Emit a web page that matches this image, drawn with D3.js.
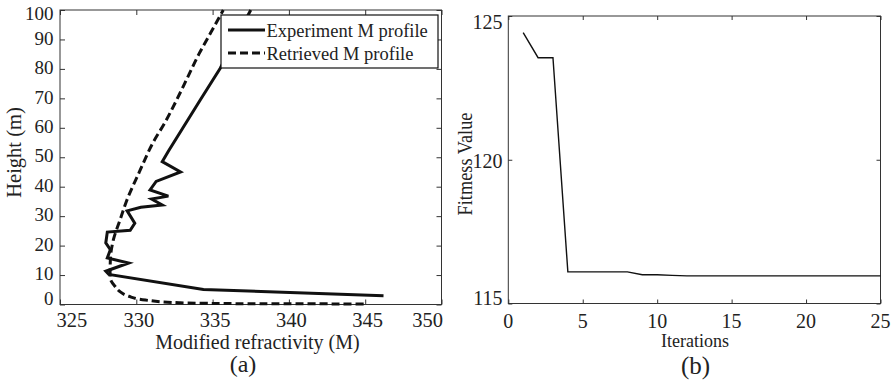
<!DOCTYPE html>
<html lang="en">
<head>
<meta charset="UTF-8">
<title>M profile retrieval</title>
<style>
  body { margin: 0; background: #fff; }
  text { font-family: "Liberation Serif", "Times New Roman", serif; fill: #222; }
  .tick line { stroke: #333; }
</style>
</head>
<body>
<svg id="chart" width="895" height="383"></svg>
<script src="https://d3js.org/d3.v7.min.js"></script>
<script>
// panel (a): measured profile, bottom to top
const expM = [346.2, 334.4, 328.2, 328.0, 329.5, 328.1, 328.3, 328.0, 328.1, 329.6, 329.9, 329.4,
              330.3, 331.7, 331.0, 332.1, 330.9, 331.3, 332.9, 331.7, 332.1, 334.2, 335.5, 337.5];
const expH = [3.0, 5.1, 10.2, 11.3, 14.1, 15.8, 18.6, 20.9, 24.6, 25.2, 27.6, 31.8,
              33.0, 33.8, 35.8, 36.8, 38.9, 41.8, 45.0, 48.5, 52.0, 69.5, 80.2, 100];
// panel (a): retrieved profile, bottom to top
const retM = [344.9, 338.0, 334.5, 332.8, 330.6, 329.5, 328.9, 328.6, 328.35, 328.28, 328.3, 328.5,
              328.94, 329.35, 330.2, 331.1, 331.9, 332.6, 333.35, 334.1, 334.9, 335.7];
const retH = [0.2, 0.25, 0.4, 0.6, 1.5, 2.8, 4.5, 6.2, 8.0, 9.6, 15.3, 22.0,
              28.8, 35.0, 45.0, 55.0, 62.0, 69.0, 77.0, 85.0, 92.5, 100];
const legendNames = ["Experiment M profile", "Retrieved M profile"];
const xTicksA = [325, 330, 335, 340, 345, 350];
const yTicksA = [0, 10, 20, 30, 40, 50, 60, 70, 80, 90, 100];

// panel (b): fitness per iteration
const iterations = d3.range(1, 26);
const fitness = [124.42, 123.55, 123.55, 116.1, 116.1, 116.1, 116.1, 116.1, 116.0, 116.0, 115.98, 115.96,
                 115.96, 115.96, 115.96, 115.96, 115.96, 115.96, 115.96, 115.96, 115.96, 115.96, 115.96, 115.96, 115.96];
const xTicksB = [0, 5, 10, 15, 20, 25];
const yTicksB = [115, 120, 125];

const svg = d3.select("#chart");

// inward ticks on all four sides plus the box
function frame(g, x, y, xt, yt, len) {
    const [x0, x1] = x.range();
    const [y0, y1] = y.range();
    g.append("g").attr("transform", `translate(0,${y0})`)
        .call(d3.axisBottom(x).tickValues(xt).tickSize(-len).tickSizeOuter(0).tickFormat(""));
    g.append("g").attr("transform", `translate(0,${y1})`)
        .call(d3.axisTop(x).tickValues(xt).tickSize(-len).tickSizeOuter(0).tickFormat(""));
    g.append("g").attr("transform", `translate(${x0},0)`)
        .call(d3.axisLeft(y).tickValues(yt).tickSize(-len).tickSizeOuter(0).tickFormat(""));
    g.append("g").attr("transform", `translate(${x1},0)`)
        .call(d3.axisRight(y).tickValues(yt).tickSize(-len).tickSizeOuter(0).tickFormat(""));
    g.selectAll(".domain").remove();
    g.append("rect")
        .attr("x", x0).attr("y", y1)
        .attr("width", x1 - x0).attr("height", y0 - y1)
        .attr("fill", "none").attr("stroke", "#333").attr("stroke-width", 1);
}

// ---------- (a) ----------
const xA = d3.scaleLinear().domain([325, 350]).range([60, 441.5]);
const yA = d3.scaleLinear().domain([0, 100]).range([304.5, 10]);
const gA = svg.append("g");

frame(gA, xA, yA, xTicksA, yTicksA, 5);

gA.append("path")
    .attr("fill", "none")
    .attr("stroke", "#111")
    .attr("stroke-width", 3)
    .attr("stroke-dasharray", "8,4")
    .attr("d", d3.line().curve(d3.curveMonotoneY).x(d => xA(d[0])).y(d => yA(d[1]))(d3.zip(retM, retH)));

gA.append("path")
    .attr("fill", "none")
    .attr("stroke", "#111")
    .attr("stroke-width", 3)
    .attr("d", d3.line().x(d => xA(d[0])).y(d => yA(d[1]))(d3.zip(expM, expH)));

// x tick labels: the end ones sit inside the box
gA.selectAll(".xl").data(xTicksA).enter().append("text")
    .attr("x", (d, i) => i === 0 ? xA(d) - 3.5 : i === xTicksA.length - 1 ? xA(d) + 1.5 : xA(d) + 2.5)
    .attr("y", 327)
    .attr("text-anchor", (d, i) => i === 0 ? "start" : i === xTicksA.length - 1 ? "end" : "middle")
    .style("font-size", "20.5px")
    .text(d => d);

gA.selectAll(".yl").data(yTicksA).enter().append("text")
    .attr("x", 53.5)
    .attr("y", (d, i) => yA(d) + (i === 0 ? -6 : i === yTicksA.length - 1 ? 3 : -1.5))
    .attr("dy", "0.35em")
    .attr("text-anchor", "end")
    .style("font-size", "19px")
    .text(d => d);

gA.append("text")
    .attr("x", 257.5).attr("y", 348.5)
    .attr("text-anchor", "middle")
    .style("font-size", "20px")
    .text("Modified refractivity (M)");

gA.append("text")
    .attr("transform", "translate(21,152.5) rotate(-90)")
    .attr("text-anchor", "middle")
    .style("font-size", "20.5px")
    .text("Height (m)");

gA.append("text")
    .attr("x", 243).attr("y", 371.5)
    .attr("text-anchor", "middle")
    .style("font-size", "24px")
    .text("(a)");

// legend
const leg = gA.append("g");
leg.append("rect")
    .attr("x", 221).attr("y", 15)
    .attr("width", 217).attr("height", 53)
    .attr("fill", "#fff").attr("stroke", "#111").attr("stroke-width", 1.2);
legendNames.forEach((name, i) => {
    const ly = 30 + i * 23;
    leg.append("line")
        .attr("x1", 228).attr("x2", 265)
        .attr("y1", ly).attr("y2", ly)
        .attr("stroke", "#111").attr("stroke-width", 3)
        .attr("stroke-dasharray", i === 1 ? "8,4" : null);
    leg.append("text")
        .attr("x", 266.5).attr("y", ly + 6.5)
        .style("font-size", "18.5px")
        .text(name);
});

// ---------- (b) ----------
const xB = d3.scaleLinear().domain([0, 25]).range([508.3, 880.5]);
const yB = d3.scaleLinear().domain([115, 125]).range([303.5, 16]);
const gB = svg.append("g");

frame(gB, xB, yB, xTicksB, yTicksB, 4);

gB.append("path")
    .attr("fill", "none")
    .attr("stroke", "#111")
    .attr("stroke-width", 1.4)
    .attr("d", d3.line().x(d => xB(d[0])).y(d => yB(d[1]))(d3.zip(iterations, fitness)));

gB.selectAll(".xl").data(xTicksB).enter().append("text")
    .attr("x", d => xB(d))
    .attr("y", 328)
    .attr("text-anchor", "middle")
    .style("font-size", "20px")
    .text(d => d);

gB.selectAll(".yl").data(yTicksB).enter().append("text")
    .attr("x", 502.5)
    .attr("y", (d, i) => yB(d) + (i === 0 ? -6 : i === yTicksB.length - 1 ? 6 : 1))
    .attr("dy", "0.35em")
    .attr("text-anchor", "end")
    .style("font-size", "20px")
    .text(d => d);

gB.append("text")
    .attr("x", 695).attr("y", 347)
    .attr("text-anchor", "middle")
    .style("font-size", "18px")
    .text("Iterations");

gB.append("text")
    .attr("transform", "translate(472,164) rotate(-90) scale(1,1.2)")
    .attr("text-anchor", "middle")
    .style("font-size", "18.3px")
    .text("Fitmess Value");

gB.append("text")
    .attr("x", 695.5).attr("y", 374)
    .attr("text-anchor", "middle")
    .style("font-size", "25px")
    .text("(b)");
</script>
</body>
</html>
